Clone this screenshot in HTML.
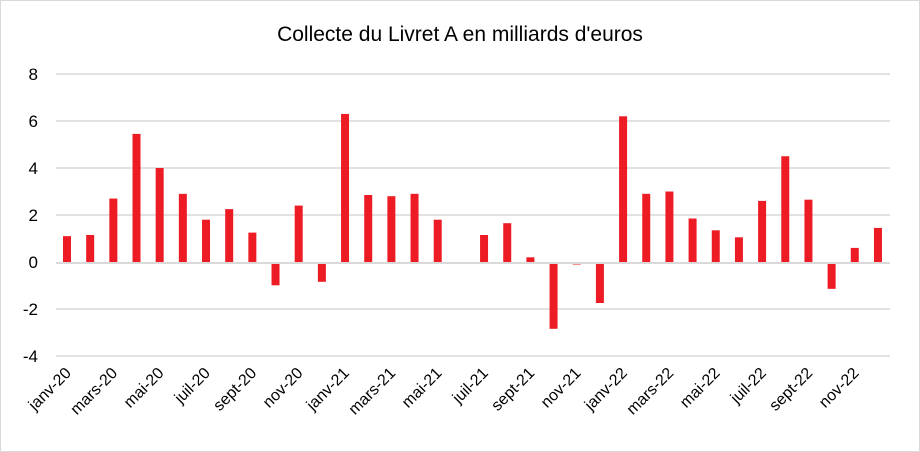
<!DOCTYPE html>
<html><head><meta charset="utf-8"><style>
html,body{margin:0;padding:0;background:#fff}
svg{display:block;font-family:"Liberation Sans",sans-serif}
</style></head><body>
<svg width="920" height="452" xmlns="http://www.w3.org/2000/svg">
<rect x="0.5" y="0.5" width="919" height="451" fill="#fff" stroke="#d9d9d9"/>
<text x="460" y="41" text-anchor="middle" font-size="21" fill="#000">Collecte du Livret A en milliards d'euros</text>
<g stroke="#d9d9d9" stroke-width="1.5">
<line x1="56" x2="890" y1="74" y2="74"/>
<line x1="56" x2="890" y1="121" y2="121"/>
<line x1="56" x2="890" y1="168" y2="168"/>
<line x1="56" x2="890" y1="215" y2="215"/>
<line x1="56" x2="890" y1="309" y2="309"/>
<line x1="56" x2="890" y1="356" y2="356"/>
</g>
<g font-size="17" fill="#000" text-anchor="end">
<text x="38" y="80">8</text><text x="38" y="127">6</text><text x="38" y="174">4</text>
<text x="38" y="221">2</text><text x="38" y="268">0</text><text x="38" y="315">-2</text><text x="38" y="362">-4</text>
</g>
<g fill="#ED1C24">
<rect x="63" y="236.15" width="8" height="25.85"/>
<rect x="86.17" y="235" width="8" height="27"/>
<rect x="109.34" y="198.55" width="8" height="63.45"/>
<rect x="132.51" y="133.9" width="8" height="128.1"/>
<rect x="155.68" y="168" width="8" height="94"/>
<rect x="178.85" y="193.85" width="8" height="68.15"/>
<rect x="202.02" y="219.7" width="8" height="42.3"/>
<rect x="225.19" y="209.1" width="8" height="52.9"/>
<rect x="248.36" y="232.6" width="8" height="29.4"/>
<rect x="271.53" y="263" width="8" height="22.3"/>
<rect x="294.7" y="205.6" width="8" height="56.4"/>
<rect x="317.87" y="263" width="8" height="18.8"/>
<rect x="341.04" y="113.95" width="8" height="148.05"/>
<rect x="364.21" y="195" width="8" height="67"/>
<rect x="387.38" y="196.2" width="8" height="65.8"/>
<rect x="410.55" y="193.85" width="8" height="68.15"/>
<rect x="433.72" y="219.7" width="8" height="42.3"/>
<rect x="480.06" y="235" width="8" height="27"/>
<rect x="503.23" y="223.2" width="8" height="38.8"/>
<rect x="526.4" y="257.3" width="8" height="4.7"/>
<rect x="549.57" y="263" width="8" height="65.8"/>
<rect x="572.74" y="263" width="8" height="1.5"/>
<rect x="595.91" y="263" width="8" height="40"/>
<rect x="619.08" y="116.3" width="8" height="145.7"/>
<rect x="642.25" y="193.85" width="8" height="68.15"/>
<rect x="665.42" y="191.5" width="8" height="70.5"/>
<rect x="688.59" y="218.5" width="8" height="43.5"/>
<rect x="711.76" y="230.3" width="8" height="31.7"/>
<rect x="734.93" y="237.3" width="8" height="24.7"/>
<rect x="758.1" y="200.9" width="8" height="61.1"/>
<rect x="781.27" y="156.25" width="8" height="105.75"/>
<rect x="804.44" y="199.7" width="8" height="62.3"/>
<rect x="827.61" y="263" width="8" height="25.85"/>
<rect x="850.78" y="247.9" width="8" height="14.1"/>
<rect x="873.95" y="227.9" width="8" height="34.1"/>
</g>
<line x1="56" x2="890" y1="263" y2="263" stroke="#d9d9d9" stroke-width="2"/>
<g font-size="16" fill="#000" text-anchor="end">
<text transform="translate(72,374) rotate(-45)">janv-20</text>
<text transform="translate(118.3,374) rotate(-45)">mars-20</text>
<text transform="translate(164.7,374) rotate(-45)">mai-20</text>
<text transform="translate(211,374) rotate(-45)">juil-20</text>
<text transform="translate(257.4,374) rotate(-45)">sept-20</text>
<text transform="translate(303.7,374) rotate(-45)">nov-20</text>
<text transform="translate(350,374) rotate(-45)">janv-21</text>
<text transform="translate(396.4,374) rotate(-45)">mars-21</text>
<text transform="translate(442.7,374) rotate(-45)">mai-21</text>
<text transform="translate(489.1,374) rotate(-45)">juil-21</text>
<text transform="translate(535.4,374) rotate(-45)">sept-21</text>
<text transform="translate(581.7,374) rotate(-45)">nov-21</text>
<text transform="translate(628.1,374) rotate(-45)">janv-22</text>
<text transform="translate(674.4,374) rotate(-45)">mars-22</text>
<text transform="translate(720.8,374) rotate(-45)">mai-22</text>
<text transform="translate(767.1,374) rotate(-45)">juil-22</text>
<text transform="translate(813.4,374) rotate(-45)">sept-22</text>
<text transform="translate(859.8,374) rotate(-45)">nov-22</text>
</g>
</svg>
</body></html>
